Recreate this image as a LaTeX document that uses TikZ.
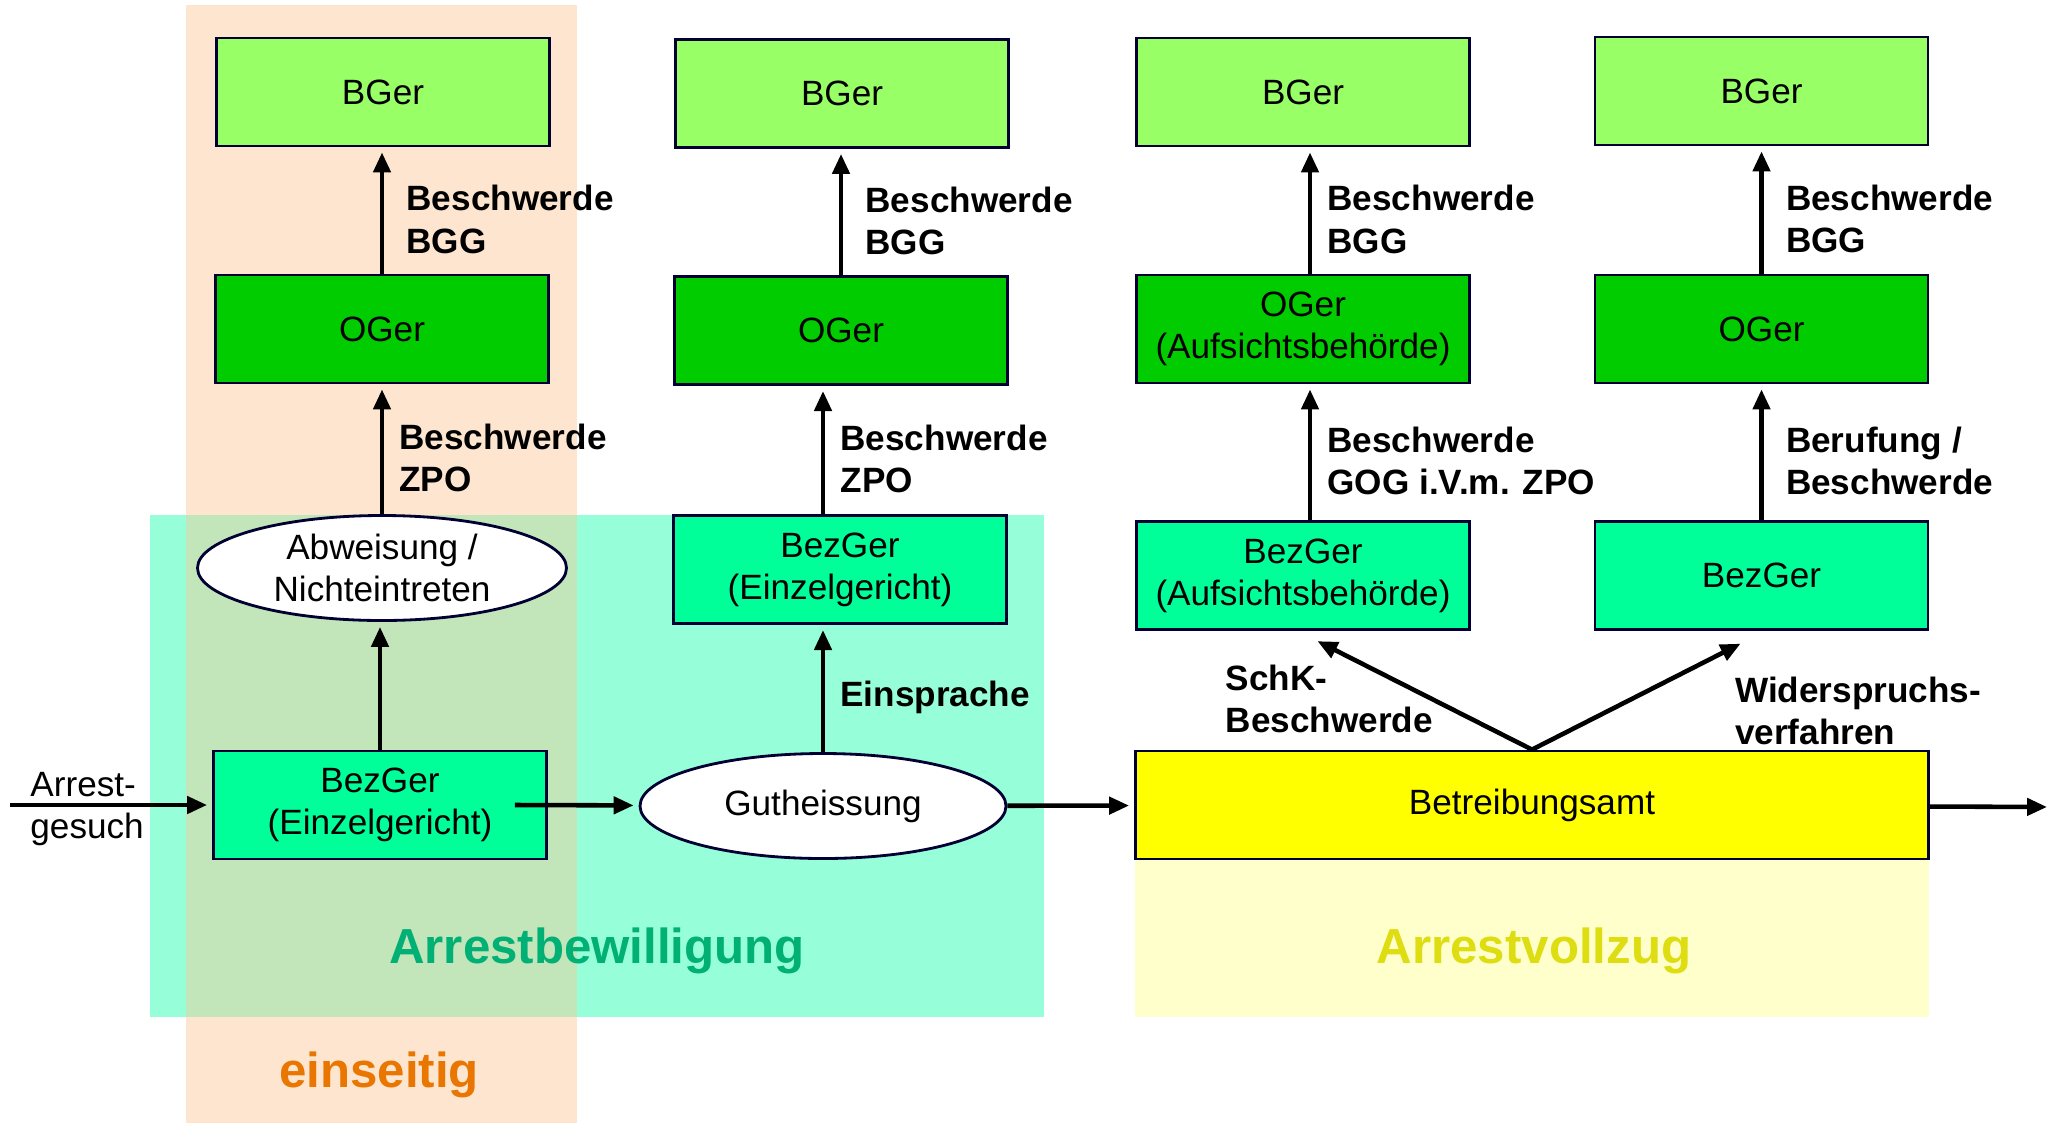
\documentclass[tikz,border=0pt]{standalone}
\usepackage{fontspec}
\setmainfont{Liberation Sans}
\usetikzlibrary{shapes.geometric,arrows.meta}

\definecolor{bgergruen}{RGB}{153,255,102}
\definecolor{ogergruen}{RGB}{0,204,0}
\definecolor{bezgruen}{RGB}{0,255,153}
\definecolor{amtgelb}{RGB}{255,255,0}
\definecolor{rahmen}{RGB}{0,0,51}
\definecolor{bewilligung}{RGB}{150,255,217}
\definecolor{vollzug}{RGB}{255,255,204}
\definecolor{einseitig}{RGB}{251,198,149}
\definecolor{bewtext}{RGB}{0,176,116}
\definecolor{volltext}{RGB}{221,221,17}
\definecolor{eintext}{RGB}{232,118,0}

\tikzset{
  gericht/.style={draw=rahmen, line width=0.8pt, minimum width=3.33cm, minimum height=1.08cm, align=center, inner sep=1pt},
  entscheid/.style={ellipse, draw=rahmen, line width=0.8pt, fill=white, minimum width=3.69cm, minimum height=1.05cm, inner sep=0pt, align=center},
  pfeil/.style={line width=1.3pt, -{Triangle[length=2mm,width=1.7mm]}, shorten >=0.5mm},
  mittel/.style={font=\bfseries, align=left, xshift=1pt, yshift=-0.09cm},
  phase/.style={font=\fontsize{14}{17}\selectfont\bfseries}
}

\begin{document}
\begin{tikzpicture}
    \useasboundingbox (0,0) rectangle (20.65,-11.23);

    % Backgrounds
    \fill[bewilligung] (1.50,-5.15) rectangle (10.44,-10.17);
    \fill[einseitig, fill opacity=0.45] (1.86,-0.05) rectangle (5.77,-11.23);
    \fill[vollzug] (11.35,-7.9) rectangle (19.29,-10.17);

    % Arrestbewilligung
    \node[gericht, fill=bgergruen] (bger1) at (3.83,-0.92) {BGer};
    \node[gericht, fill=ogergruen] (oger1) at (3.82,-3.29) {OGer};
    \node[entscheid] (abw) at (3.82,-5.68) {Abweisung /\\Nichteintreten};
    \node[gericht, fill=bezgruen] (bez1) at (3.80,-8.05) {BezGer\\(Einzelgericht)};

    \node[gericht, fill=bgergruen] (bger2) at (8.42,-0.935) {BGer};
    \node[gericht, fill=ogergruen] (oger2) at (8.41,-3.306) {OGer};
    \node[gericht, fill=bezgruen] (bez2) at (8.40,-5.696) {BezGer\\(Einzelgericht)};
    \node[entscheid, minimum width=3.66cm] (guth) at (8.23,-8.06) {Gutheissung};

    % Arrestvollzug
    \node[gericht, fill=amtgelb, minimum width=7.93cm] (amt) at (15.32,-8.05) {Betreibungsamt};

    \node[gericht, fill=bgergruen] (bger3) at (13.03,-0.92) {BGer};
    \node[gericht, fill=ogergruen] (oger3) at (13.03,-3.29) {OGer\\(Aufsichtsbehörde)};
    \node[gericht, fill=bezgruen] (bez3) at (13.03,-5.755) {BezGer\\(Aufsichtsbehörde)};

    \node[gericht, fill=bgergruen] (bger4) at (17.615,-0.91) {BGer};
    \node[gericht, fill=ogergruen] (oger4) at (17.615,-3.29) {OGer};
    \node[gericht, fill=bezgruen] (bez4) at (17.615,-5.755) {BezGer};

    % Main flow
    \coordinate (ein) at (0.105,-8.05);
    \coordinate (aus) at (20.52,-8.07);
    \draw[pfeil] (ein) -- node[pos=0.38, align=left, yshift=-0.04cm] {Arrest-\\gesuch} (bez1);
    \draw[pfeil] ([xshift=-0.33cm]bez1.east) -- (guth);
    \draw[pfeil] (guth) -- (amt);
    \draw[pfeil] (amt) -- (aus);

    % Rechtsmittel
    \draw[pfeil] (bez1.north) -- (bez1.north |- abw.south);
    \draw[pfeil] (abw.north) -- node[mittel, right] {Beschwerde\\ZPO} (abw.north |- oger1.south);
    \draw[pfeil] (oger1.north) -- node[mittel, right, xshift=2pt] {Beschwerde\\BGG} (oger1.north |- bger1.south);

    \draw[pfeil] (guth.north) -- node[mittel, right] {Einsprache} (guth.north |- bez2.south);
    \draw[pfeil] (bez2.north -| guth.north) -- node[mittel, right] {Beschwerde\\ZPO} (guth.north |- oger2.south);
    \draw[pfeil] (oger2.north) -- node[mittel, right, xshift=2pt] {Beschwerde\\BGG} (oger2.north |- bger2.south);

    \draw[pfeil] (amt.north) -- node[mittel, pos=0.46, left, xshift=0.12cm, yshift=0.09cm] {SchK-\\Beschwerde} ([shift={(0.1,-0.08)}]bez3.south);
    \draw[pfeil] (amt.north) -- node[mittel, pos=0.36, right, xshift=1.09cm, yshift=0.09cm] {Widerspruchs-\\verfahren} ([shift={(-0.165,-0.105)}]bez4.south);

    \draw[pfeil] ([xshift=0.07cm]bez3.north) -- node[mittel, right] {Beschwerde\\GOG i.V.m. ZPO} ([xshift=0.07cm]oger3.south);
    \draw[pfeil] ([xshift=0.07cm]oger3.north) -- node[mittel, right] {Beschwerde\\BGG} ([xshift=0.07cm]bger3.south);
    \draw[pfeil] (bez4) -- node[mittel, right, xshift=2pt] {Berufung /\\Beschwerde} (oger4);
    \draw[pfeil] (oger4) -- node[mittel, right, xshift=2pt] {Beschwerde\\BGG} (bger4);

    % Phasen
    \node[phase, text=bewtext] (lbew) at (5.97,-9.51) {Arrestbewilligung};
    \node[phase, text=volltext] (lvoll) at (15.34,-9.51) {Arrestvollzug};
    \node[phase, text=eintext] (lein) at (3.79,-10.75) {einseitig};
\end{tikzpicture}
\end{document}
